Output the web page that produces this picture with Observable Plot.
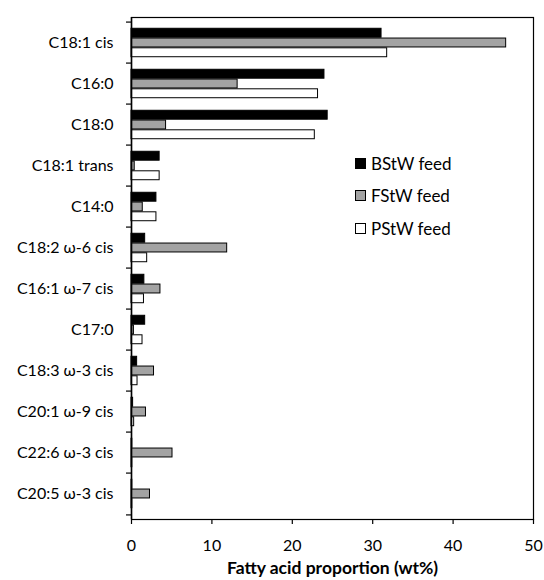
<!DOCTYPE html>
<html>
<head>
<meta charset="utf-8">
<script src="https://cdn.jsdelivr.net/npm/d3@7"></script>
<script src="https://cdn.jsdelivr.net/npm/@observablehq/plot@0.6"></script>
<style>
  html, body { margin: 0; padding: 0; background: #fff; }
  #wrap { position: relative; width: 544px; height: 580px; font-family: Lato, "Liberation Sans", sans-serif; }
  #legend { position: absolute; left: 355px; top: 147px; font-size: 17px; color: #000; }
  #legend .row { display: flex; align-items: center; height: 32.5px; }
  #legend .sw { width: 9px; height: 9px; border: 1px solid #000; margin-right: 5px; }
</style>
</head>
<body>
<div id="wrap"></div>
<script>
const categories = ["C18:1 cis", "C16:0", "C18:0", "C18:1 trans", "C14:0", "C18:2 ω-6 cis",
  "C16:1 ω-7 cis", "C17:0", "C18:3 ω-3 cis", "C20:1 ω-9 cis", "C22:6 ω-3 cis", "C20:5 ω-3 cis"];
const seriesNames = ["BStW feed", "FStW feed", "PStW feed"];
const bstw = [31.1, 24.0, 24.4, 3.5, 3.1, 1.7, 1.6, 1.7, 0.7, 0.2, 0.1, 0.1];
const fstw = [46.6, 13.2, 4.3, 0.4, 1.4, 11.9, 3.6, 0.3, 2.8, 1.8, 5.1, 2.3];
const pstw = [31.8, 23.2, 22.8, 3.5, 3.1, 1.95, 1.55, 1.37, 0.75, 0.33, 0.1, 0.1];
const xTicks = [0, 10, 20, 30, 40, 50];
const xLabel = "Fatty acid proportion (wt%)";
const fills = ["#000000", "#a3a3a3", "#ffffff"];

const W = 544, H = 580, mT = 17, mB = 61, mL = 131, mR = 11;
const bw = (H - mT - mB) / categories.length;
const outer = 0.15 * bw, barH = (bw - 2 * outer) / 3;
const last = categories[categories.length - 1];

const seriesValues = [bstw, fstw, pstw];
const barMarks = seriesValues.map((vals, s) =>
  Plot.barX(categories.map((c, i) => ({cat: c, v: vals[i]})), {
    y: "cat", x: "v",
    fill: fills[s], stroke: "#000", strokeWidth: 1,
    insetTop: outer + s * barH,
    insetBottom: bw - outer - (s + 1) * barH
  })
);

const chart = Plot.plot({
  width: W, height: H,
  marginTop: mT, marginBottom: mB, marginLeft: mL, marginRight: mR,
  style: {fontFamily: "Lato, 'Liberation Sans', sans-serif", fontSize: "16px", color: "#000", background: "#fff"},
  x: {domain: [0, 50]},
  y: {type: "band", domain: categories, padding: 0},
  marks: [
    ...barMarks,
    Plot.frame({stroke: "#000", strokeWidth: 1.2}),
    Plot.ruleX([0], {stroke: "#000", strokeWidth: 1.5}),
    Plot.axisY({tickSize: 0, tickPadding: 18, label: null, fontSize: 16}),
    Plot.axisY({tickSize: 5, tickFormat: () => "", label: null, dy: -bw / 2, strokeWidth: 1.2}),
    Plot.axisY({ticks: [last], tickSize: 5, tickFormat: () => "", label: null, dy: bw / 2, strokeWidth: 1.2}),
    Plot.axisX({ticks: xTicks, tickSize: 5, tickPadding: 15, label: null, fontSize: 16, strokeWidth: 1.2}),
    Plot.text([xLabel], {frameAnchor: "bottom", dy: 54, fontWeight: "bold", fontSize: 17.5})
  ]
});

const wrap = document.getElementById("wrap");
wrap.appendChild(chart);
const legend = document.createElement("div");
legend.id = "legend";
seriesNames.forEach((n, i) => {
  const row = document.createElement("div");
  row.className = "row";
  const sw = document.createElement("div");
  sw.className = "sw";
  sw.style.background = fills[i];
  const t = document.createElement("span");
  t.textContent = n;
  row.appendChild(sw); row.appendChild(t);
  legend.appendChild(row);
});
wrap.appendChild(legend);
</script>
</body>
</html>
